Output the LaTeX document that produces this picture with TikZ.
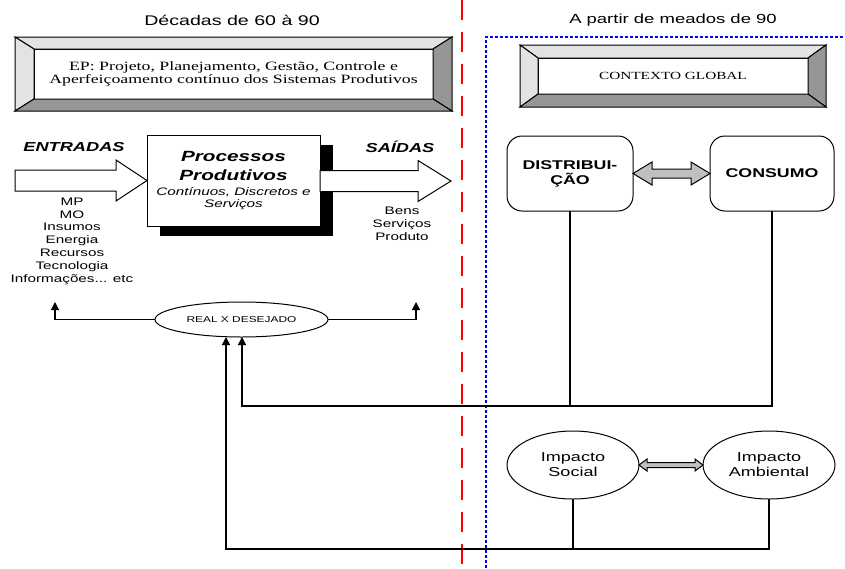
\documentclass[tikz,border=0pt]{standalone}
\usepackage{fontspec}
\setmainfont{Liberation Serif}[FakeStretch=1.4]
\setsansfont{Liberation Sans}[FakeStretch=1.4]
\usepackage{tikz}
\usetikzlibrary{positioning,calc,shapes.geometric,shadows,arrows.meta}
\definecolor{claro}{HTML}{E3E3E3}
\definecolor{escuro}{HTML}{969696}
\definecolor{cinza}{HTML}{C0C0C0}
\tikzset{titulo/.style = {font=\sffamily\fontsize{13.2}{15}\selectfont},
         painel/.style = {draw,line width=1pt,fill=white,inner sep=0pt,outer sep=0pt,align=center},
         rotulo/.style = {font=\sffamily\bfseries\itshape\fontsize{13}{15}\selectfont},
         lista/.style = {font=\sffamily\fontsize{10.9}{12.8}\selectfont,align=center},
         caixa/.style = {draw,line width=1pt,rounded corners=15pt,minimum height=75,outer sep=0pt,
                         align=center,font=\sffamily\bfseries\fontsize{12.7}{15}\selectfont},
         elipse/.style = {ellipse,draw,line width=1pt,inner sep=0pt,outer sep=0pt,align=center},
         seta/.style = {draw,line width=1pt,fill=white},
         duplaseta/.style = {draw,line width=1pt,fill=cinza},
         ligacao/.style = {line width=1.2pt},
         fluxo/.style = {line width=1.2pt,-{Triangle[width=8pt,length=8pt]}}}
% moldura em relevo em volta de um painel
\newcommand{\moldura}[3]{%
  \path (#1.north west) ++(-#2,-#3) coordinate (#1-a)
        (#1.north east) ++(#2,-#3) coordinate (#1-b)
        (#1.south east) ++(#2,#3) coordinate (#1-c)
        (#1.south west) ++(-#2,#3) coordinate (#1-d);
  \filldraw[line width=1pt,fill=claro] (#1-a) -- (#1-b) -- (#1.north east) -- (#1.north west) -- cycle;
  \filldraw[line width=1pt,fill=claro] (#1-a) -- (#1.north west) -- (#1.south west) -- (#1-d) -- cycle;
  \filldraw[line width=1pt,fill=escuro] (#1-b) -- (#1-c) -- (#1.south east) -- (#1.north east) -- cycle;
  \filldraw[line width=1pt,fill=escuro] (#1-d) -- (#1.south west) -- (#1.south east) -- (#1-c) -- cycle;}

\begin{document}
\begin{tikzpicture}[x=1pt,y=-1pt]
  \useasboundingbox (0,0) rectangle (845,568);
  % divisao das epocas
  \draw[red,line width=1.5pt,dash pattern=on 20pt off 12pt] (462,0) -- (462,568);
  \draw[blue,line width=1.5pt,dash pattern=on 3pt off 2pt] (486,568) -- (486,37) -- (845,37);
  \node[titulo,font=\sffamily\fontsize{14}{15}\selectfont] (dec) at (232,20) {Décadas de 60 à 90};
  \node[titulo] (meados) at (673,20) {A partir de meados de 90};

  % paineis
  \node[painel,minimum width=399,minimum height=50,
        font=\fontsize{12.7}{12.5}\selectfont] (ep) at (233.5,74)
        {EP: Projeto, Planejamento, Gestão, Controle e\\
         Aperfeiçoamento contínuo dos Sistemas Produtivos};
  \moldura{ep}{19}{12}
  \node[painel,minimum width=270,minimum height=36,
        font=\fontsize{10.9}{12}\selectfont] (ctx) at (673,76) {CONTEXTO GLOBAL};
  \moldura{ctx}{18}{13}

  % processo produtivo
  \node[painel,minimum width=173,minimum height=91,
        general shadow={fill=black,shadow xshift=13pt,shadow yshift=-10pt}] (proc) at (233.5,180.5)
        {\sffamily\bfseries\itshape\fontsize{14.8}{18}\selectfont Processos\\[7pt]
         \sffamily\bfseries\itshape\fontsize{14.8}{18}\selectfont Produtivos\\[3pt]
         \sffamily\itshape\fontsize{10.9}{13.5}\selectfont Contínuos, Discretos e\\
         \sffamily\itshape\fontsize{10.9}{13.5}\selectfont Serviços};
  \draw[seta] (proc.west) -- ++(-31,-20.5) -- ++(0,10) -- ++(-101,0) -- ++(0,21)
              -- ++(101,0) -- ++(0,10) -- cycle;
  \coordinate (saida) at (451,181);
  \draw[seta] (saida) -- ++(-33,-20.5) -- ++(0,10) -- (proc.east |- 0,170.5) -- (proc.east |- 0,191.5)
              -- (418,191.5) -- ++(0,10) -- cycle;
  \node[rotulo] (ent) at (74,147) {ENTRADAS};
  \node[rotulo] (sai) at (400,147) {SAÍDAS};
  \node[lista] (insumos) at (72,241)
        {MP\\ MO\\ Insumos\\ Energia\\ Recursos\\ Tecnologia\\ Informações... etc};
  \node[lista] (produtos) at (402,224) {Bens\\ Serviços\\ Produto};

  % realimentacao
  \node[elipse,minimum width=173,minimum height=35,
        font=\sffamily\fontsize{8.5}{10}\selectfont] (real) at (241.5,319.5) {REAL X DESEJADO};
  \coordinate (ent-fb) at (55,302);
  \coordinate (sai-fb) at (416,302);
  \draw[fluxo] (real.west) -| (ent-fb);
  \draw[fluxo] (real.east) -| (sai-fb);

  % contexto global
  \node[caixa,minimum width=126] (dist) at (570,173.5) {DISTRIBUI-\\ ÇÃO};
  \node[caixa,minimum width=124] (cons) at (772,173.5) {CONSUMO};
  \draw[duplaseta] (dist.east) -- ++(19,-11.5) -- ++(0,7) -- ($(cons.west)+(-19,-4.5)$) -- ++(0,-7)
        -- (cons.west) -- ++(-19,11.5) -- ++(0,-7) -- ($(dist.east)+(19,4.5)$) -- ++(0,7) -- cycle;
  \node[elipse,minimum width=132,minimum height=68,
        font=\sffamily\fontsize{12.9}{15}\selectfont] (soc) at (573,465) {Impacto\\ Social};
  \node[elipse,minimum width=132,minimum height=68,
        font=\sffamily\fontsize{12.9}{15}\selectfont] (amb) at (769,465) {Impacto\\ Ambiental};
  \draw[duplaseta] (soc.east) -- ++(8,-6) -- ++(0,3.5) -- ($(amb.west)+(-8,-2.5)$) -- ++(0,-3.5)
        -- (amb.west) -- ++(-8,6) -- ++(0,-3.5) -- ($(soc.east)+(8,2.5)$) -- ++(0,3.5) -- cycle;

  % ligacoes de volta ao real x desejado
  \coordinate (m1) at (242,406);
  \coordinate (m2) at (226,549);
  \draw[ligacao] (dist.south) -- (dist.south |- m1);
  \draw[fluxo] (cons.south) |- (m1) -- (m1 |- real.south);
  \draw[ligacao] (soc.south) -- (soc.south |- m2);
  \draw[fluxo] (amb.south) |- (m2) -- (m2 |- real.south);
\end{tikzpicture}
\end{document}
